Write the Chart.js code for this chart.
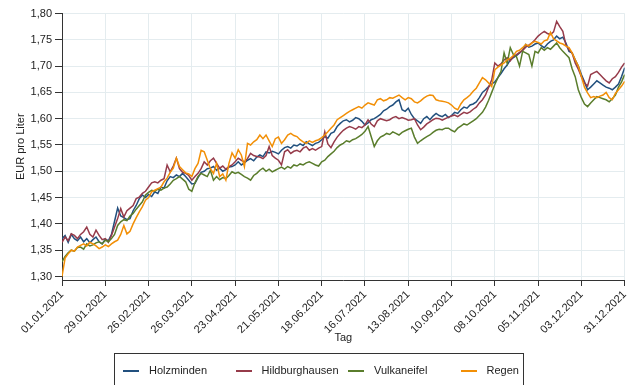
<!DOCTYPE html>
<html>
<head>
<meta charset="utf-8">
<script src="https://cdn.jsdelivr.net/npm/chart.js@4"></script>
<style>
  body { margin: 0; background: #fff; }
  #wrap { position: relative; width: 636px; height: 385px; }
  #legend {
    position: absolute; left: 114px; top: 353px; width: 408px; height: 40px;
    border: 1px solid #333; font: 11px "Liberation Sans", Arial, sans-serif; color: #222;
  }
  .item { position: absolute; top: 10px; line-height: 13px; white-space: nowrap; }
  .swatch { display: inline-block; width: 16px; height: 2px; vertical-align: middle; margin-right: 10px; }
</style>
</head>
<body>
<div id="wrap">
  <canvas id="chart" width="636" height="385"></canvas>
  <div id="legend"></div>
</div>
<script>
// x ticks every 4 weeks
const tickDays = [0, 28, 56, 84, 112, 140, 168, 196, 224, 252, 280, 308, 336, 364];
const tickLabels = ['01.01.2021', '29.01.2021', '26.02.2021', '26.03.2021', '23.04.2021', '21.05.2021',
  '18.06.2021', '16.07.2021', '13.08.2021', '10.09.2021', '08.10.2021', '05.11.2021', '03.12.2021', '31.12.2021'];
const yTicks = [1.30, 1.35, 1.40, 1.45, 1.50, 1.55, 1.60, 1.65, 1.70, 1.75, 1.80];

const seriesNames = ['Holzminden', 'Hildburghausen', 'Vulkaneifel', 'Regen'];
const seriesColors = ['#22507e', '#963b4a', '#5a7d2c', '#f28f06'];

// prices every second day of 2021 (EUR pro Liter)
const dayStep = 2;
const holzminden = [
  1.372, 1.378, 1.365, 1.380, 1.372, 1.368, 1.375, 1.366, 1.372, 1.364, 1.370, 1.375, 1.366, 1.362,
  1.371, 1.368, 1.380, 1.405, 1.430, 1.415, 1.412, 1.408, 1.410, 1.425, 1.435, 1.448, 1.455, 1.450,
  1.456, 1.452, 1.461, 1.458, 1.470, 1.468, 1.482, 1.490, 1.488, 1.493, 1.490, 1.496, 1.490, 1.483,
  1.476, 1.477, 1.488, 1.498, 1.500, 1.505, 1.506, 1.509, 1.502, 1.506, 1.500, 1.503, 1.508, 1.509,
  1.512, 1.518, 1.512, 1.516, 1.521, 1.524, 1.520, 1.527, 1.531, 1.528, 1.537, 1.535, 1.538, 1.536,
  1.533, 1.540, 1.545, 1.547, 1.544, 1.550, 1.548, 1.552, 1.549, 1.556, 1.552, 1.549, 1.553, 1.555,
  1.560, 1.566, 1.563, 1.572, 1.575, 1.585, 1.591, 1.596, 1.598, 1.594, 1.597, 1.602, 1.600, 1.595,
  1.588, 1.592, 1.598, 1.600, 1.604, 1.608, 1.615, 1.618, 1.623, 1.626, 1.632, 1.636, 1.617, 1.614,
  1.620, 1.608, 1.600, 1.596, 1.591, 1.600, 1.604, 1.598, 1.605, 1.610, 1.606, 1.604, 1.608, 1.602,
  1.606, 1.612, 1.610, 1.617, 1.622, 1.620, 1.626, 1.628, 1.632, 1.640, 1.650, 1.655, 1.661, 1.666,
  1.670, 1.678, 1.686, 1.695, 1.702, 1.712, 1.716, 1.720, 1.725, 1.730, 1.741, 1.736, 1.738, 1.742,
  1.744, 1.739, 1.735, 1.742, 1.747, 1.750, 1.757, 1.752, 1.755, 1.744, 1.728, 1.725, 1.712, 1.700,
  1.684, 1.670, 1.655, 1.660, 1.666, 1.672, 1.668, 1.664, 1.660, 1.658, 1.655, 1.660, 1.666, 1.680,
  1.697
];
const hildburghausen = [
  1.365, 1.375, 1.368, 1.381, 1.378, 1.372, 1.380, 1.385, 1.394, 1.380, 1.375, 1.388, 1.378, 1.370,
  1.372, 1.365, 1.378, 1.394, 1.410, 1.429, 1.413, 1.425, 1.430, 1.435, 1.448, 1.451, 1.458, 1.462,
  1.470, 1.478, 1.480, 1.478, 1.483, 1.486, 1.512, 1.499, 1.510, 1.525, 1.505, 1.498, 1.496, 1.492,
  1.483, 1.490, 1.496, 1.505, 1.518, 1.512, 1.520, 1.525, 1.515, 1.506, 1.510, 1.504, 1.509, 1.512,
  1.518, 1.525, 1.521, 1.518, 1.524, 1.534, 1.530, 1.528, 1.527, 1.524, 1.530, 1.547, 1.530, 1.525,
  1.521, 1.512, 1.537, 1.541, 1.534, 1.538, 1.540, 1.537, 1.544, 1.547, 1.540, 1.543, 1.540, 1.544,
  1.547, 1.575, 1.552, 1.545, 1.556, 1.565, 1.572, 1.578, 1.582, 1.585, 1.583, 1.580, 1.585, 1.583,
  1.588, 1.598, 1.590, 1.585, 1.596, 1.600, 1.598, 1.596, 1.598, 1.602, 1.604, 1.600, 1.602, 1.600,
  1.597, 1.598, 1.600, 1.588, 1.579, 1.584, 1.590, 1.594, 1.598, 1.601, 1.600, 1.597, 1.600, 1.603,
  1.605, 1.607, 1.604, 1.608, 1.612, 1.610, 1.613, 1.618, 1.622, 1.630, 1.636, 1.645, 1.660, 1.674,
  1.706, 1.700, 1.704, 1.712, 1.716, 1.710, 1.718, 1.722, 1.726, 1.730, 1.736, 1.740, 1.744, 1.750,
  1.757, 1.762, 1.766, 1.762, 1.760, 1.765, 1.785, 1.775, 1.766, 1.740, 1.731, 1.725, 1.706, 1.694,
  1.680, 1.668, 1.662, 1.684, 1.687, 1.690, 1.684, 1.678, 1.672, 1.668, 1.676, 1.680, 1.688, 1.698,
  1.706
];
const vulkaneifel = [
  1.328, 1.338, 1.345, 1.350, 1.348, 1.355, 1.356, 1.352, 1.362, 1.358, 1.360, 1.364, 1.366, 1.362,
  1.369, 1.366, 1.372, 1.380, 1.397, 1.404, 1.408, 1.406, 1.415, 1.420, 1.428, 1.435, 1.442, 1.455,
  1.460, 1.464, 1.462, 1.466, 1.464, 1.468, 1.470, 1.476, 1.483, 1.486, 1.490, 1.485, 1.480, 1.466,
  1.462, 1.478, 1.490, 1.496, 1.493, 1.490, 1.502, 1.483, 1.490, 1.484, 1.488, 1.486, 1.492, 1.499,
  1.496, 1.498, 1.494, 1.490, 1.487, 1.483, 1.492, 1.496, 1.502, 1.506, 1.500, 1.504, 1.499, 1.502,
  1.505, 1.508, 1.504, 1.509, 1.506, 1.512, 1.510, 1.514, 1.512, 1.516, 1.518, 1.515, 1.512, 1.510,
  1.518, 1.521, 1.528, 1.533, 1.538, 1.545, 1.550, 1.553, 1.558, 1.556, 1.560, 1.562, 1.566, 1.570,
  1.576, 1.585, 1.566, 1.547, 1.558, 1.565, 1.568, 1.572, 1.570, 1.575, 1.572, 1.569, 1.574, 1.577,
  1.580, 1.582, 1.565, 1.553, 1.558, 1.562, 1.566, 1.569, 1.574, 1.578, 1.580, 1.579, 1.582, 1.582,
  1.578, 1.575, 1.582, 1.586, 1.590, 1.588, 1.592, 1.596, 1.600, 1.606, 1.612, 1.622, 1.635, 1.650,
  1.665, 1.678, 1.690, 1.725, 1.705, 1.735, 1.722, 1.718, 1.700, 1.728, 1.725, 1.722, 1.700, 1.728,
  1.725, 1.735, 1.730, 1.735, 1.732, 1.738, 1.744, 1.735, 1.728, 1.722, 1.716, 1.695, 1.680, 1.655,
  1.640, 1.628, 1.623, 1.630, 1.636, 1.642, 1.640, 1.638, 1.636, 1.632, 1.638, 1.645, 1.660, 1.670,
  1.684
];
const regen = [
  1.300, 1.335, 1.343, 1.350, 1.348, 1.356, 1.359, 1.362, 1.358, 1.365, 1.362, 1.358, 1.353, 1.356,
  1.360, 1.357, 1.362, 1.366, 1.369, 1.380, 1.397, 1.381, 1.386, 1.400, 1.412, 1.423, 1.433, 1.445,
  1.450, 1.461, 1.464, 1.467, 1.470, 1.480, 1.487, 1.498, 1.506, 1.525, 1.509, 1.503, 1.497, 1.495,
  1.490, 1.505, 1.515, 1.540, 1.537, 1.521, 1.505, 1.496, 1.515, 1.490, 1.495, 1.483, 1.515, 1.535,
  1.525, 1.541, 1.531, 1.509, 1.553, 1.550, 1.556, 1.560, 1.569, 1.562, 1.569, 1.558, 1.547, 1.562,
  1.565, 1.553, 1.560, 1.569, 1.572, 1.568, 1.566, 1.560, 1.556, 1.553, 1.558, 1.555, 1.558, 1.560,
  1.564, 1.569, 1.575, 1.582, 1.588, 1.598, 1.602, 1.606, 1.610, 1.614, 1.617, 1.620, 1.623, 1.620,
  1.626, 1.630, 1.628, 1.626, 1.636, 1.638, 1.634, 1.636, 1.640, 1.639, 1.642, 1.645, 1.640, 1.636,
  1.640, 1.638, 1.632, 1.630, 1.634, 1.639, 1.643, 1.645, 1.644, 1.636, 1.634, 1.633, 1.632, 1.630,
  1.626, 1.620, 1.617, 1.628, 1.636, 1.640, 1.645, 1.652, 1.658, 1.668, 1.678, 1.674, 1.668, 1.661,
  1.693, 1.698, 1.702, 1.706, 1.712, 1.715, 1.720, 1.728, 1.730, 1.735, 1.741, 1.738, 1.744, 1.747,
  1.745, 1.742, 1.748, 1.750, 1.764, 1.752, 1.748, 1.744, 1.742, 1.738, 1.735, 1.725, 1.712, 1.700,
  1.680, 1.660, 1.649, 1.640, 1.642, 1.640, 1.643, 1.645, 1.650, 1.640, 1.636, 1.648, 1.655, 1.662,
  1.671
];

const seriesValues = [holzminden, hildburghausen, vulkaneifel, regen];
const drawOrder = [4, 3, 2, 1]; // Regen on top

const font = { family: '"Liberation Sans", Arial, sans-serif', size: 11 };
const inkColor = '#222';
const axisColor = '#333';
const gridColor = '#e4ecef';

const datasets = seriesNames.map((name, i) => ({
  label: name,
  data: seriesValues[i].map((v, k) => ({ x: k * dayStep, y: v })),
  borderColor: seriesColors[i],
  borderWidth: 1.5,
  pointRadius: 0,
  tension: 0,
  order: drawOrder[i]
}));

new Chart(document.getElementById('chart'), {
  type: 'line',
  data: { datasets },
  options: {
    responsive: false,
    animation: false,
    layout: { padding: { left: 10, right: 10, top: 13.5, bottom: 36 } },
    plugins: { legend: { display: false }, tooltip: { enabled: false } },
    scales: {
      x: {
        type: 'linear',
        min: 0,
        max: 364,
        afterBuildTicks: (scale) => { scale.ticks = tickDays.map(d => ({ value: d })); },
        afterFit: (scale) => { scale.height = 69; },
        ticks: {
          autoSkip: false,
          minRotation: 45,
          maxRotation: 45,
          padding: 2,
          color: inkColor,
          font,
          callback: (value, index) => tickLabels[index]
        },
        grid: { color: gridColor, tickColor: axisColor, tickLength: 6 },
        border: { color: axisColor, width: 1 },
        title: { display: true, text: 'Tag', color: inkColor, font }
      },
      y: {
        min: 1.2933,
        max: 1.80,
        afterBuildTicks: (scale) => { scale.ticks = yTicks.map(v => ({ value: v })); },
        afterFit: (scale) => { scale.width = 52; },
        ticks: {
          padding: 3,
          color: inkColor,
          font,
          callback: (value) => value.toFixed(2).replace('.', ',')
        },
        grid: { color: gridColor, tickColor: axisColor, tickLength: 7 },
        border: { color: axisColor, width: 1 },
        title: { display: true, text: 'EUR pro Liter', color: inkColor, font }
      }
    }
  }
});

// legend in a framed box below the plot
const legend = document.getElementById('legend');
seriesNames.forEach((name, i) => {
  const item = document.createElement('div');
  item.className = 'item';
  item.style.left = (8 + i * 112.5) + 'px';
  item.innerHTML = `<span class="swatch" style="background:${seriesColors[i]}"></span>${name}`;
  legend.appendChild(item);
});
</script>
</body>
</html>
